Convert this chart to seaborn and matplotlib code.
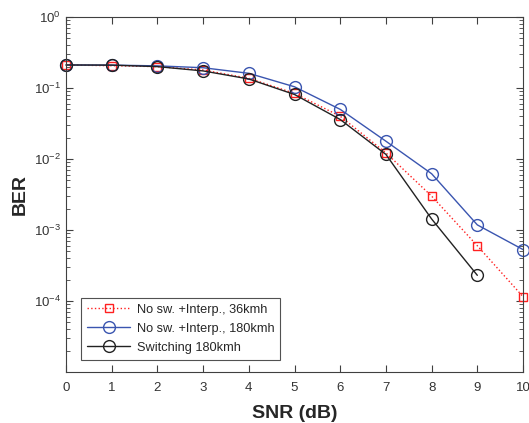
import numpy as np
import pandas as pd
import matplotlib
matplotlib.use("Agg")
import matplotlib.pyplot as plt
import seaborn as sns
from matplotlib.ticker import LogLocator, NullFormatter

sns.set_style("ticks")
plt.rcParams['font.family'] = ['Liberation Sans', 'DejaVu Sans']

snr = [0, 1, 2, 3, 4, 5, 6, 7, 8, 9, 10]
snr_sw = [0, 1, 2, 3, 4, 5, 6, 7, 8, 9]

ber_interp_36 = [0.211, 0.206, 0.200, 0.179, 0.137, 0.084, 0.040, 0.0122, 0.0030, 6.0e-4, 1.15e-4]
ber_interp_180 = [0.211, 0.210, 0.205, 0.193, 0.161, 0.104, 0.050, 0.0178, 0.0062, 1.18e-3, 5.3e-4]
ber_switch_180 = [0.211, 0.210, 0.200, 0.174, 0.134, 0.081, 0.036, 0.0116, 1.43e-3, 2.3e-4]

labels = ['No sw. +Interp., 36kmh', 'No sw. +Interp., 180kmh', 'Switching 180kmh']

fig = plt.figure(figsize=(5.29, 4.23), dpi=100)
ax = fig.add_axes([0.1248, 0.1206, 0.8639, 0.8392])

sns.lineplot(x=snr, y=ber_interp_36, ax=ax, color='#ff2020', linestyle=':', lw=1.0,
             marker='s', markersize=6, markerfacecolor='none', markeredgecolor='#ff2020',
             markeredgewidth=1.0, label=labels[0], clip_on=False)
sns.lineplot(x=snr, y=ber_interp_180, ax=ax, color='#3a55b0', linestyle='-', lw=1.0,
             marker='o', markersize=8.5, markerfacecolor='none', markeredgecolor='#3a55b0',
             markeredgewidth=1.0, label=labels[1], clip_on=False)
sns.lineplot(x=snr_sw, y=ber_switch_180, ax=ax, color='#222222', linestyle='-', lw=1.0,
             marker='o', markersize=8.5, markerfacecolor='none', markeredgecolor='#222222',
             markeredgewidth=1.0, label=labels[2], clip_on=False)

ax.set_yscale('log')
ax.set_ylim(1e-5, 1)
ax.set_xlim(0, 10)
ax.set_xticks(range(0, 11))
ax.set_yticks([1e-4, 1e-3, 1e-2, 1e-1, 1e0])
ax.yaxis.set_minor_locator(LogLocator(base=10, subs=np.arange(2, 10), numticks=20))
ax.yaxis.set_minor_formatter(NullFormatter())

ax.tick_params(which='both', direction='in', top=True, right=True, colors='#404040',
               labelcolor='#333333', labelsize=9.5)
ax.tick_params(axis='x', pad=7)
ax.tick_params(which='major', length=5, width=0.8)
ax.tick_params(which='minor', length=3, width=0.6)
for s in ax.spines.values():
    s.set_color('#404040')
    s.set_linewidth(0.8)

ax.set_xlabel('SNR (dB)', fontsize=14, fontweight='bold', color='#262626', labelpad=8)
ax.set_ylabel('BER', fontsize=14, fontweight='bold', color='#262626')

leg = ax.legend(loc='lower left', bbox_to_anchor=(0.033, 0.035), fontsize=9.2, frameon=True,
                fancybox=False, borderpad=0.45, labelspacing=0.55, handlelength=3.4,
                handletextpad=0.5, borderaxespad=0)
leg.get_frame().set_edgecolor('#262626')
leg.get_frame().set_linewidth(0.8)

plt.savefig('out.png', dpi=100)
